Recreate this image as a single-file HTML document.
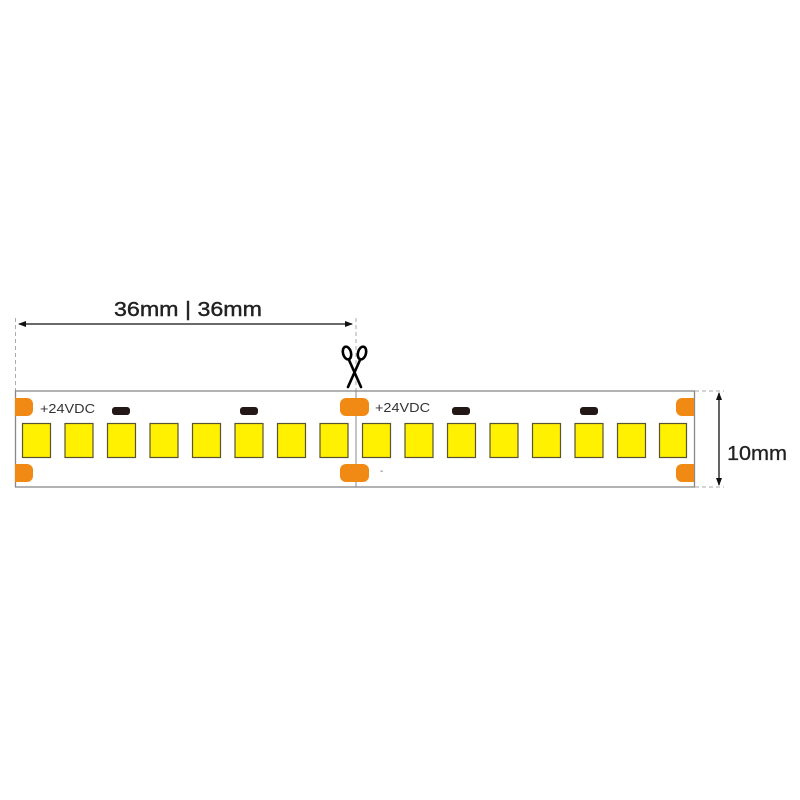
<!DOCTYPE html>
<html><head><meta charset="utf-8"><style>
html,body{margin:0;padding:0;background:#fff;width:800px;height:800px;overflow:hidden}
svg{display:block}
text{font-family:"Liberation Sans",sans-serif}
</style></head><body>
<svg width="800" height="800" viewBox="0 0 800 800" xmlns="http://www.w3.org/2000/svg">
<defs>
<marker id="a" markerWidth="8" markerHeight="8" refX="7" refY="4" orient="auto-start-reverse" markerUnits="userSpaceOnUse">
<path d="M0,1 L8,4 L0,7 Z" fill="#111"/></marker>
</defs>
<line x1="15.5" y1="318" x2="15.5" y2="391" stroke="#aaa" stroke-dasharray="4,3"/>
<line x1="356" y1="318" x2="356" y2="391" stroke="#aaa" stroke-dasharray="4,3"/>
<line x1="19" y1="324" x2="352" y2="324" stroke="#111" stroke-width="1.3" marker-start="url(#a)" marker-end="url(#a)"/>
<text x="188" y="316" font-size="20" text-anchor="middle" fill="#222" stroke="#222" stroke-width="0.4" textLength="148" lengthAdjust="spacingAndGlyphs">36mm | 36mm</text>
<g stroke="#000" stroke-width="2.6" fill="none" stroke-linecap="round">
<ellipse cx="347" cy="353" rx="4" ry="6.5" transform="rotate(-15 347 353)"/>
<ellipse cx="362" cy="353" rx="4" ry="6.5" transform="rotate(15 362 353)"/>
<line x1="349" y1="360" x2="361" y2="387"/>
<line x1="360" y1="360" x2="348" y2="387"/>
</g>
<rect x="15.5" y="391" width="679" height="96" fill="#fff" stroke="#888" stroke-width="1.3"/>
<line x1="356" y1="391" x2="356" y2="487" stroke="#888" stroke-width="1"/>
<g fill="#f08a14">
<path d="M15,398 H27 a6,6 0 0 1 6,6 V410 a6,6 0 0 1 -6,6 H15Z"/>
<path d="M15,464 H27 a6,6 0 0 1 6,6 V476 a6,6 0 0 1 -6,6 H15Z"/>
<rect x="340" y="398" width="29" height="18" rx="6"/>
<rect x="340" y="464" width="29" height="18" rx="6"/>
<path d="M694,398 H682 a6,6 0 0 0 -6,6 V410 a6,6 0 0 0 6,6 H694Z"/>
<path d="M694,464 H682 a6,6 0 0 0 -6,6 V476 a6,6 0 0 0 6,6 H694Z"/>
</g>
<g fill="#231815">
<rect x="112" y="407" width="18" height="8" rx="3"/>
<rect x="240" y="407" width="18" height="8" rx="3"/>
<rect x="452" y="407" width="18" height="8" rx="3"/>
<rect x="580" y="407" width="18" height="8" rx="3"/>
</g>
<g fill="#fff100" stroke="#5a5330" stroke-width="1.2">
<rect x="22.5" y="423.5" width="28" height="34"/>
<rect x="65" y="423.5" width="28" height="34"/>
<rect x="107.5" y="423.5" width="28" height="34"/>
<rect x="150" y="423.5" width="28" height="34"/>
<rect x="192.5" y="423.5" width="28" height="34"/>
<rect x="235" y="423.5" width="28" height="34"/>
<rect x="277.5" y="423.5" width="28" height="34"/>
<rect x="320" y="423.5" width="28" height="34"/>
<rect x="362.5" y="423.5" width="28" height="34"/>
<rect x="405" y="423.5" width="28" height="34"/>
<rect x="447.5" y="423.5" width="28" height="34"/>
<rect x="490" y="423.5" width="28" height="34"/>
<rect x="532.5" y="423.5" width="28" height="34"/>
<rect x="575" y="423.5" width="28" height="34"/>
<rect x="617.5" y="423.5" width="28" height="34"/>
<rect x="659.5" y="423.5" width="27" height="34"/>
</g>
<text x="40" y="413" font-size="13" fill="#333" textLength="55" lengthAdjust="spacingAndGlyphs">+24VDC</text>
<text x="375" y="412" font-size="13" fill="#333" textLength="55" lengthAdjust="spacingAndGlyphs">+24VDC</text>
<text x="380" y="474" font-size="10" fill="#666">-</text>
<line x1="695" y1="391" x2="724" y2="391" stroke="#aaa" stroke-dasharray="4,3"/>
<line x1="695" y1="487" x2="724" y2="487" stroke="#aaa" stroke-dasharray="4,3"/>
<line x1="719" y1="393" x2="719" y2="485" stroke="#111" stroke-width="1.3" marker-start="url(#a)" marker-end="url(#a)"/>
<text x="727" y="460" font-size="20" fill="#222" stroke="#222" stroke-width="0.3" textLength="60" lengthAdjust="spacingAndGlyphs">10mm</text>
</svg>
</body></html>
